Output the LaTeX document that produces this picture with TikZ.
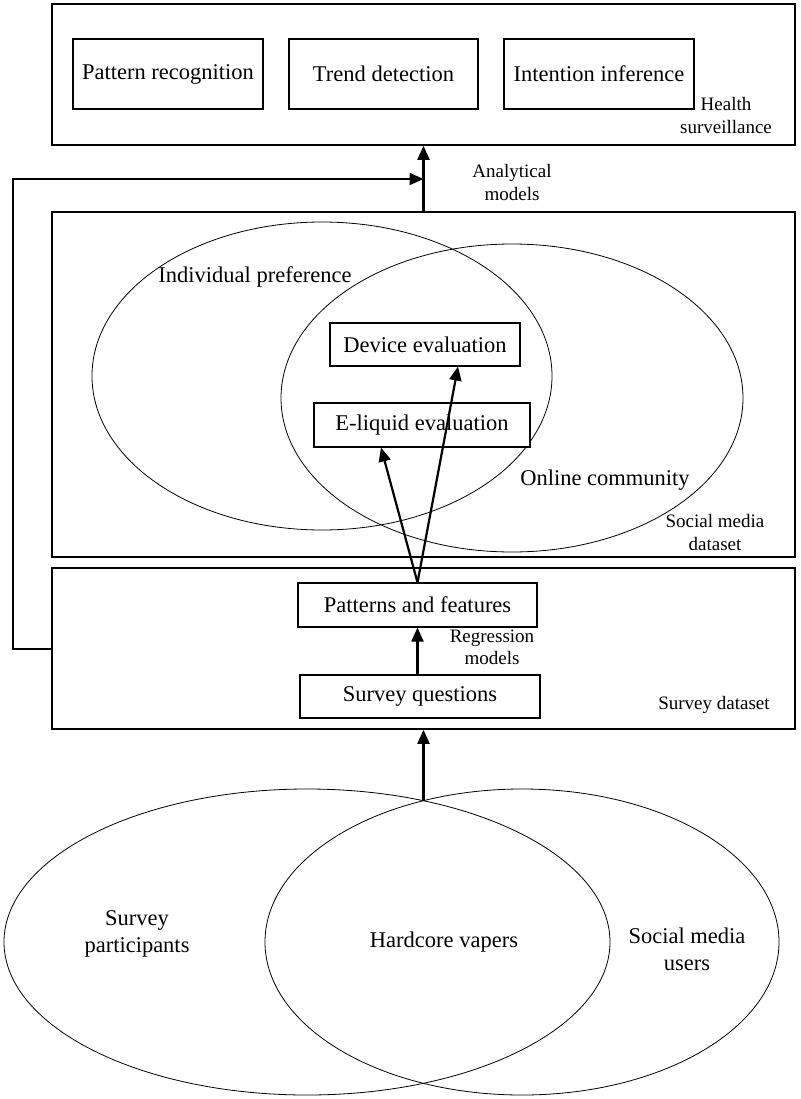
\documentclass[tikz,border=0pt]{standalone}
\usepackage{fontspec}
\setmainfont{Liberation Serif}
\usetikzlibrary{arrows.meta}
\begin{document}
\begin{tikzpicture}[x=1pt,y=-1pt,
  bigbox/.style={draw, line width=1.6pt, inner sep=0pt},
  subbox/.style={draw, line width=1.1pt, fill=white, inner sep=0pt, font=\fontsize{22.5}{26}\selectfont},
  venn/.style={draw, line width=0.8pt},
  lbl/.style={font=\fontsize{19}{22.5}\selectfont, align=center, inner sep=0pt},
  biglbl/.style={font=\fontsize{22.5}{27}\selectfont, align=center, inner sep=0pt},
  arr/.style={line width=2.2pt, -{Triangle[length=14pt,width=12pt]}},
  fb/.style={line width=2pt}]
\useasboundingbox (0,0) rectangle (800,1099);
% outer boxes
\node[bigbox, minimum width=743pt, minimum height=141pt] (top) at (423.5,74.5) {};
\node[bigbox, minimum width=743pt, minimum height=345pt] (social) at (423.5,384.5) {};
\node[bigbox, minimum width=743pt, minimum height=161pt] (survey) at (423.5,648.5) {};
% top sub boxes
\node[subbox, minimum width=190pt, minimum height=70pt] (pr) at (168,74) {Pattern recognition};
\node[subbox, minimum width=189pt, minimum height=70pt] (td) at (383.5,74) {Trend detection};
\node[subbox, minimum width=190pt, minimum height=70pt] (ii) at (599,74) {Intention inference};
\node[lbl] (hs) at (726,115.5) {Health\\surveillance};
% social media ellipses
\draw[venn] (322,376) ellipse [x radius=230pt, y radius=154pt];
\draw[venn] (512,398) ellipse [x radius=231pt, y radius=154pt];
\node[biglbl] (ip) at (255,277) {Individual preference};
\node[biglbl] (oc) at (605,480) {Online community};
\node[subbox, minimum width=190pt, minimum height=43pt] (dev) at (425,344.5) {Device evaluation};
\node[subbox, minimum width=216pt, minimum height=44pt] (eliq) at (422,425) {E-liquid evaluation};
\node[lbl] (smd) at (715,532.5) {Social media\\dataset};
% survey box
\node[subbox, minimum width=239pt, minimum height=44pt] (pf) at (417.5,605) {Patterns and features};
\node[subbox, minimum width=240pt, minimum height=43pt] (sq) at (420,696.5) {Survey questions};
\node[lbl] (rm) at (492,647.5) {Regression\\models};
\node[lbl] (sd) at (714,705) {Survey dataset};
\node[lbl] (am) at (512,182.5) {Analytical\\models};
% bottom venn
\draw[venn] (307,942) ellipse [x radius=303pt, y radius=153pt];
\draw[venn] (522,942) ellipse [x radius=257pt, y radius=153pt];
\node[biglbl] (sp) at (137,933.5) {Survey\\participants};
\node[biglbl] (hv) at (444,942) {Hardcore vapers};
\node[biglbl] (smu) at (687,949) {Social media\\users};
\coordinate (vtop) at (423.5,800.5);
\coordinate (fbend) at (423.5,179);
% connectors
\draw[arr] (vtop) -- (survey.south);
\draw[arr] (pf.south |- sq.north) -- (pf.south);
\draw[arr] (pf.north) -- ([xshift=-41pt]eliq.south);
\draw[arr] (pf.north) -- ([xshift=33pt]dev.south);
\draw[arr] (social.north) -- (top.south);
\draw[fb] (survey.west) -- ++(-38,0) |- ([xshift=-12pt]fbend);
\draw[arr] ([xshift=-14pt]fbend) -- (fbend);
\end{tikzpicture}
\end{document}
